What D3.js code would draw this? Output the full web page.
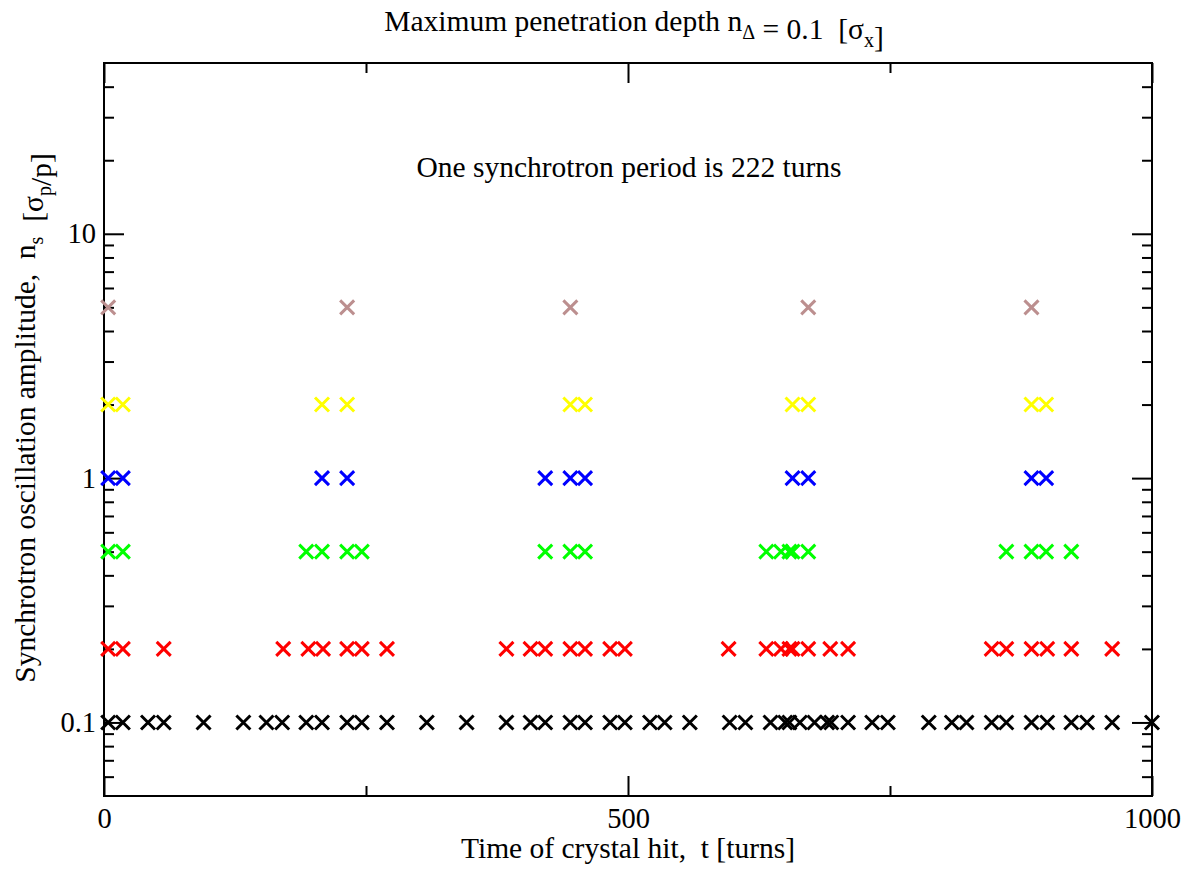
<!DOCTYPE html>
<html>
<head>
<meta charset="utf-8">
<script src="https://cdn.jsdelivr.net/npm/d3@7"></script>
<style>
    body { margin: 0; background: #fff; }
    svg text { font-family: "Liberation Serif", "Times New Roman", serif; fill: #000; white-space: pre; }
</style>
</head>
<body>
<div id="chart"></div>
<script>
// synchrotron amplitude of each series (y), in sigma_p/p
var amplitudes = [0.1, 0.2, 0.5, 1, 2, 5];

// turns at which the crystal is hit, one list per amplitude
var hits01 = [4, 18, 42, 57, 95, 133, 155, 170, 193, 208, 232, 246, 270, 308,
    346, 384, 407, 421, 445, 459, 483, 497, 521, 535, 559,
    597, 612, 636, 650, 654, 664, 678, 690, 694, 710, 733, 748,
    787, 809, 823, 847, 861, 885, 900, 923, 938, 962, 1000];
var hits02 = [4, 18, 57, 171, 195, 209, 232, 246, 270,
    384, 407, 421, 445, 459, 483, 497,
    596, 632, 646, 654, 657, 672, 693, 710,
    847, 861, 885, 900, 923, 962];
var hits05 = [4, 18, 193, 208, 232, 246, 421, 445, 459, 632, 646, 654, 657, 672, 861, 885, 899, 923];
var hits1 = [4, 18, 208, 232, 421, 445, 459, 657, 672, 885, 899];
var hits2 = [4, 18, 208, 232, 445, 459, 657, 672, 885, 899];
var hits5 = [4, 232, 445, 672, 885];

var hitLists = [hits01, hits02, hits05, hits1, hits2, hits5];
var seriesColors = ['#000000', '#ff0000', '#00ff00', '#0000ff', '#ffff00', '#bc8f8f'];

var xMajorTicks = [0, 500, 1000];
var xMinorTicks = [250, 750];
var yMajorTicks = [0.1, 1, 10];
var yMinorTicks = [0.06, 0.07, 0.08, 0.09, 0.2, 0.3, 0.4, 0.5, 0.6, 0.7, 0.8, 0.9,
    2, 3, 4, 5, 6, 7, 8, 9, 20, 30, 40];

(function() {
    var width = 1192;
    var height = 869;
    var plotLeft = 104, plotRight = 1152, plotTop = 63, plotBottom = 796;
    var fontSize = 29.5;
    var tickFontSize = 28.5;

    var svg = d3.select('#chart').append('svg')
        .attr('width', width)
        .attr('height', height);

    var x = d3.scaleLinear().domain([0, 1000]).range([plotLeft, plotRight]);
    var y = d3.scaleLog().domain([0.05, 50]).range([plotBottom, plotTop]);

    var drawAxis = function(axis, transform) {
        var g = svg.append('g')
            .attr('transform', transform)
            .call(axis);
        g.select('.domain').remove();
        g.selectAll('.tick line').attr('stroke', '#000').attr('stroke-width', 2);
        g.selectAll('.tick text')
            .attr('font-size', tickFontSize)
            .attr('font-family', '"Liberation Serif", "Times New Roman", serif');
        return g;
    };

    // inward ticks on all four sides
    drawAxis(d3.axisBottom(x).tickValues(xMajorTicks).tickSize(-20).tickPadding(12)
        .tickFormat(d3.format('d')), 'translate(0,' + plotBottom + ')');
    drawAxis(d3.axisBottom(x).tickValues(xMinorTicks).tickSize(-10).tickFormat(''),
        'translate(0,' + plotBottom + ')');
    drawAxis(d3.axisTop(x).tickValues(xMajorTicks).tickSize(-20).tickFormat(''),
        'translate(0,' + plotTop + ')');
    drawAxis(d3.axisTop(x).tickValues(xMinorTicks).tickSize(-10).tickFormat(''),
        'translate(0,' + plotTop + ')');

    drawAxis(d3.axisLeft(y).tickValues(yMajorTicks).tickSize(-20).tickPadding(8)
        .tickFormat(function(d) { return d < 1 ? d3.format('.1f')(d) : d3.format('d')(d); }),
        'translate(' + plotLeft + ',0)');
    drawAxis(d3.axisLeft(y).tickValues(yMinorTicks).tickSize(-10).tickFormat(''),
        'translate(' + plotLeft + ',0)');
    drawAxis(d3.axisRight(y).tickValues(yMajorTicks).tickSize(-20).tickFormat(''),
        'translate(' + plotRight + ',0)');
    drawAxis(d3.axisRight(y).tickValues(yMinorTicks).tickSize(-10).tickFormat(''),
        'translate(' + plotRight + ',0)');

    svg.append('rect')
        .attr('x', plotLeft)
        .attr('y', plotTop)
        .attr('width', plotRight - plotLeft)
        .attr('height', plotBottom - plotTop)
        .attr('fill', 'none')
        .attr('stroke', '#000')
        .attr('stroke-width', 2);

    // cross markers
    var points = [];
    for (var i = 0; i < hitLists.length; i++) {
        for (var j = 0; j < hitLists[i].length; j++) {
            points.push({ t: hitLists[i][j], a: amplitudes[i], color: seriesColors[i] });
        }
    }

    var s = 7;
    svg.append('g').selectAll('path').data(points).enter()
        .append('path')
        .attr('d', 'M' + (-s) + ',' + (-s) + 'L' + s + ',' + s + 'M' + s + ',' + (-s) + 'L' + (-s) + ',' + s)
        .attr('transform', function(d) {
            return 'translate(' + x(d.t) + ',' + y(d.a) + ')';
        })
        .attr('stroke', function(d) { return d.color; })
        .attr('stroke-width', 3)
        .attr('fill', 'none');

    // texts with subscripts
    var subText = function(sel, parts) {
        parts.forEach(function(p) {
            if (p.sub) {
                sel.append('tspan').attr('dy', 8).attr('font-size', fontSize * 0.68).text(p.sub);
                sel.append('tspan').attr('dy', -8).text('');
            } else {
                sel.append('tspan').text(p.text);
            }
        });
    };

    var title = svg.append('text')
        .attr('x', 634)
        .attr('y', 31)
        .attr('text-anchor', 'middle')
        .attr('font-size', fontSize);
    subText(title, [{ text: 'Maximum penetration depth n' }, { sub: '\u0394' },
        { text: ' = 0.1  [\u03c3' }, { sub: 'x' }, { text: ']' }]);

    svg.append('text')
        .attr('x', 629)
        .attr('y', 177)
        .attr('text-anchor', 'middle')
        .attr('font-size', fontSize)
        .text('One synchrotron period is 222 turns');

    svg.append('text')
        .attr('x', 628)
        .attr('y', 858)
        .attr('text-anchor', 'middle')
        .attr('font-size', fontSize)
        .text('Time of crystal hit,  t [turns]');

    var ylab = svg.append('text')
        .attr('transform', 'translate(35,418) rotate(-90)')
        .attr('text-anchor', 'middle')
        .attr('font-size', fontSize);
    subText(ylab, [{ text: 'Synchrotron oscillation amplitude,  n' }, { sub: 's' },
        { text: '  [\u03c3' }, { sub: 'p' }, { text: '/p]' }]);
})();
</script>
</body>
</html>
